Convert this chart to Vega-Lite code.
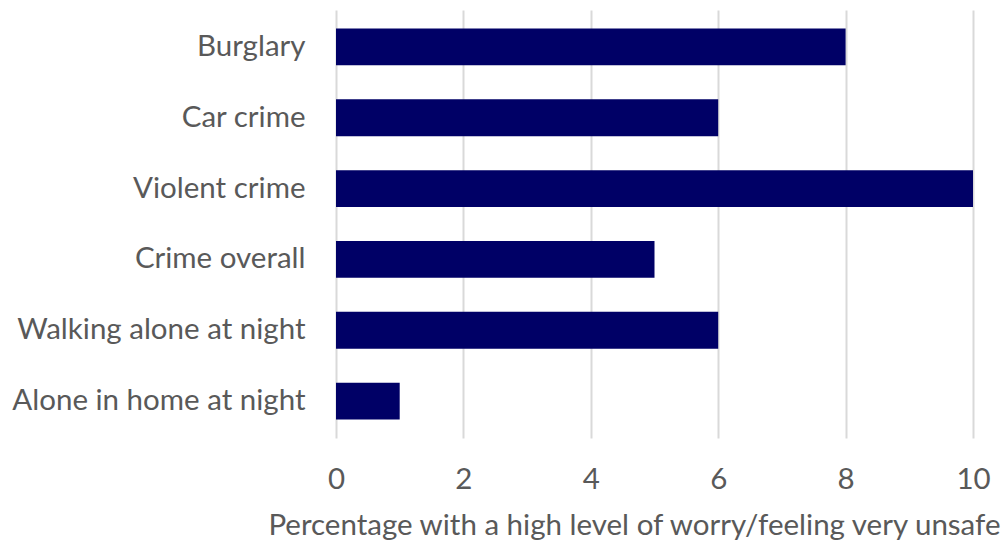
{
  "$schema": "https://vega.github.io/schema/vega-lite/v6.json",
  "autosize": "none",
  "width": 637,
  "height": 428,
  "padding": {"left": 336, "top": 10, "right": 28, "bottom": 106},
  "background": "white",
  "data": {"values": [
    {"category": "Burglary", "value": 8},
    {"category": "Car crime", "value": 6},
    {"category": "Violent crime", "value": 10},
    {"category": "Crime overall", "value": 5},
    {"category": "Walking alone at night", "value": 6},
    {"category": "Alone in home at night", "value": 1}
  ]},
  "mark": {"type": "bar", "color": "#000066"},
  "encoding": {
    "y": {"field": "category", "type": "nominal", "sort": null,
      "scale": {"paddingInner": 0.48, "paddingOuter": 0.26},
      "axis": {"title": null, "domain": false, "ticks": false, "labelPadding": 31,
        "labelFont": "Lato", "labelFontSize": 29.5, "labelColor": "#595959", "labelLimit": 400}},
    "x": {"field": "value", "type": "quantitative",
      "scale": {"domain": [0, 10], "nice": false},
      "axis": {"values": [0,2,4,6,8,10], "domain": false, "ticks": false, "grid": true, "gridColor": "#d9d9d9", "gridWidth": 2,
        "labelFlush": false, "labelPadding": 27, "labelFont": "Lato", "labelFontSize": 29.5, "labelColor": "#595959",
        "title": "Percentage with a high level of worry/feeling very unsafe",
        "titleFont": "Lato", "titleFontSize": 29.5, "titleFontWeight": "normal", "titleColor": "#595959",
        "titlePadding": 18, "titleAnchor": null, "titleAlign": "right", "titleX": 664}}
  },
  "config": {"view": {"stroke": null}}
}
